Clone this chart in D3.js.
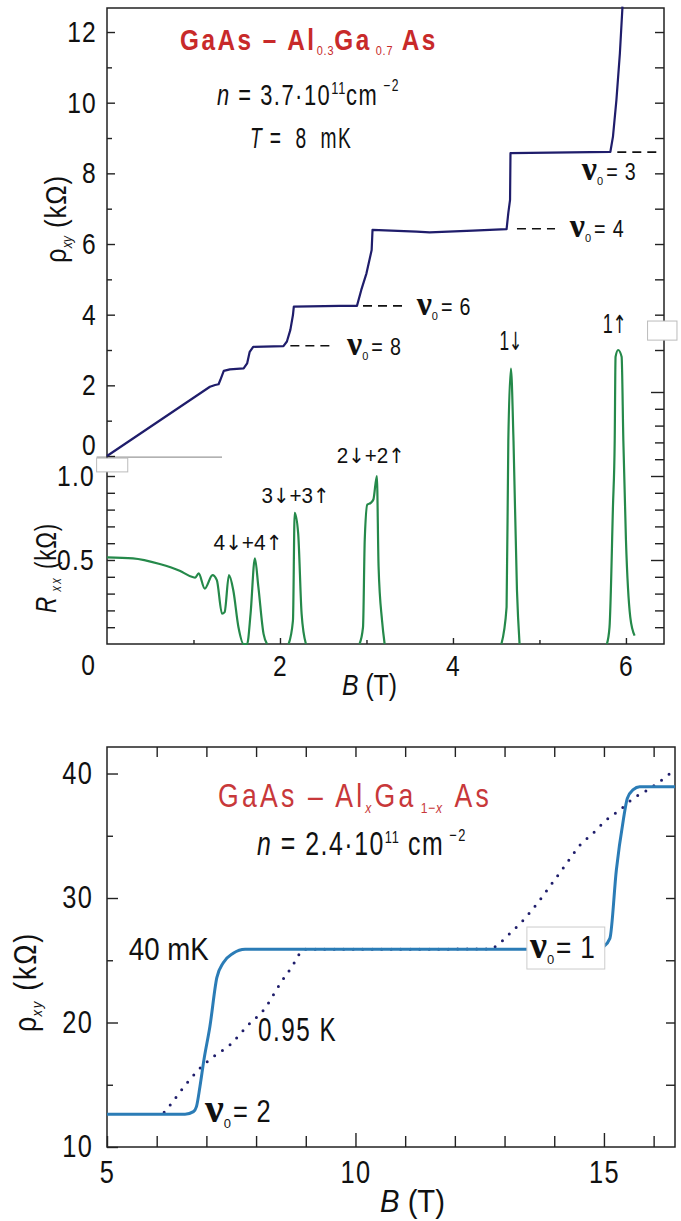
<!DOCTYPE html>
<html><head><meta charset="utf-8">
<script src="https://cdn.jsdelivr.net/npm/d3@7"></script>
<style>
body{margin:0;background:#fff;}
svg text{font-family:"Liberation Sans",Arial,sans-serif;fill:#111;white-space:pre;}
.nu{font-family:"Liberation Serif","DejaVu Serif",serif;font-weight:bold;}
.arr{font-family:"DejaVu Sans",sans-serif;}
</style></head><body>
<svg id="c" width="681" height="1221"></svg>
<script>
// ---------- Top panel data (B in T) ----------
const rhoB = [0, 1.19, 1.25, 1.29, 1.31, 1.35, 1.42, 1.58, 1.62, 1.65, 1.69, 2.04, 2.08, 2.12, 2.15, 2.16, 2.69, 2.89, 2.94, 3.00, 3.06, 3.07, 3.58, 3.73, 4.23, 4.62, 4.64, 4.66, 4.665, 5.82, 5.85, 5.89, 5.93, 5.96];
const rhoV = [0, 1.96, 2.01, 2.03, 2.15, 2.41, 2.45, 2.48, 2.62, 2.95, 3.09, 3.11, 3.24, 3.57, 3.99, 4.23, 4.25, 4.25, 4.70, 5.17, 5.83, 6.40, 6.35, 6.33, 6.38, 6.42, 6.88, 7.25, 8.57, 8.61, 9.04, 10.08, 11.40, 12.72];

const rxxB = [0, 0.30, 0.61, 0.84, 0.98, 1.02, 1.06, 1.13, 1.22, 1.27, 1.33, 1.36, 1.41, 1.46, 1.52, 1.58, 1.62, 1.66, 1.71, 1.75, 1.81, 1.85, null,
  2.10, 2.15, 2.17, 2.21, 2.25, 2.30, null,
  2.92, 2.96, 2.98, 3.01, 3.05, 3.08, 3.12, 3.14, 3.18, 3.21, null,
  4.56, 4.62, 4.64, 4.67, 4.70, 4.74, 4.77, null,
  5.78, 5.81, 5.85, 5.87, 5.88, 5.91, 5.95, 5.97, 6.00, 6.05, 6.10];
const rxxV = [0.516, 0.51, 0.476, 0.436, 0.40, 0.395, 0.42, 0.33, 0.41, 0.38, 0.18, 0.19, 0.41, 0.32, 0.10, 0.0, 0.0, 0.18, 0.51, 0.34, 0.06, 0.0, null,
  0.0, 0.14, 0.78, 0.66, 0.18, 0.0, null,
  0.0, 0.10, 0.62, 0.83, 0.84, 0.86, 1.00, 0.46, 0.14, 0.0, null,
  0.0, 0.22, 1.21, 1.64, 1.21, 0.32, 0.0, null,
  0.0, 0.10, 0.82, 1.21, 1.71, 1.75, 1.71, 1.21, 0.62, 0.16, 0.05];

const rhoTicksMajor = [0, 2, 4, 6, 8, 10, 12];
const rhoTicksMinor = [1, 3, 5, 7, 9, 11];
const rxxTicks = [0.1, 0.2, 0.3, 0.4, 0.5, 0.6, 0.7, 0.8, 0.9, 1.0];
const rxxLabels = [0.5, 1.0];
const bTopTicks = [1, 2, 3, 4, 5, 6];
const bTopLabels = [2, 4, 6];

// filling factor annotations (top): plateau level, dash range, label anchor
const nuTopNames = ["8", "6", "4", "3"];
const nuTopRho = [3.12, 4.25, 6.43, 8.60];
const nuTopDashFrom = [2.12, 2.96, 4.74, 5.90];
const nuTopDashTo = [2.64, 3.42, 5.18, 6.36];
const nuTopLabelB = [2.775, 3.58, 5.35, 5.49];
const nuTopLabelRho = [2.86, 3.99, 6.20, 7.81];

const peakNames = ["4↓+4↑", "3↓+3↑", "2↓+2↑", "1↓", "1↑"];
const peakB = [1.63, 2.18, 3.05, 4.67, 5.87];
const peakR = [0.56, 0.84, 1.08, 1.75, 1.85];

// ---------- Bottom panel data ----------
const b40 = [5.0, 6.57, 6.74, 6.80, 6.87, 6.95, 7.07, 7.21, 7.34, 7.54, 7.78, 14.85, 14.99, 15.12, 15.25, 15.39, 15.47, 15.59, 15.72, 16.43];
const r40 = [12.63, 12.63, 12.84, 13.24, 14.84, 16.99, 19.66, 23.6, 24.8, 25.56, 25.88, 25.88, 26.09, 26.76, 32.25, 36.27, 38.0, 38.7, 38.94, 38.94];
const b095 = [6.15, 6.27, 6.50, 6.87, 7.14, 7.47, 7.84, 8.15, 8.51, 8.72, 8.82, 8.95, 12.70, 12.85, 13.04, 13.38, 13.71, 13.98, 14.25, 14.52, 14.78, 15.05, 15.32, 15.59, 15.93, 16.33];
const r095 = [12.79, 13.37, 14.58, 16.32, 17.25, 18.19, 19.8, 21.0, 23.28, 24.48, 25.16, 25.88, 25.9, 26.2, 26.9, 28.23, 29.84, 31.31, 32.79, 34.26, 35.2, 36.27, 37.07, 38.0, 38.81, 40.0];

const lowYMajor = [10, 20, 30, 40];
const lowYMinor = [15, 25, 35];
const lowXTicks = [5, 6, 7, 8, 9, 10, 11, 12, 13, 14, 15, 16];
const lowXLabels = [5, 10, 15];

// ---------- drawing ----------
const svg = d3.select("#c");
const NAVY = "#1f1d6b", GREEN = "#25894a", BLUE = "#2b7cb6", RED = "#c82a2a";
const NARROW = 0.82;

const xT = d3.scaleLinear().domain([0, 6.44]).range([107, 664]);
const yRho = d3.scaleLinear().domain([0, 12.68]).range([456, 8]);
const yRxx = d3.scaleLinear().domain([0, 1]).range([644, 476]);

const xL = d3.scaleLinear().domain([5, 16.43]).range([107, 675]);
const yL = d3.scaleLinear().domain([10, 42.13]).range([1147, 747]);

function squeeze(sel, k) {
  sel.each(function () {
    const s = d3.select(this);
    const x = +s.attr("x") || 0, y = +s.attr("y") || 0;
    s.attr("transform", `translate(${x},${y}) scale(${k},1) translate(${-x},${-y})`);
  });
}
function fit(t, w, base) {
  const bb = t.node().getBBox();
  const k = w / bb.width;
  if (base) t.attr("transform", `${base} scale(${k},1)`);
  else squeeze(t, k);
  return t;
}

function styleAxis(g, fs) {
  g.attr("font-family", null).attr("font-size", null);
  g.select(".domain").remove();
  g.selectAll(".tick line").attr("stroke", "#222").attr("stroke-width", 1.4);
  g.selectAll(".tick text").attr("fill", "#111").style("font-size", fs + "px").style("letter-spacing", "1.5px");
  squeeze(g.selectAll(".tick text"), NARROW);
}

// gray artifacts
svg.append("line").attr("x1", xT(-0.12)).attr("x2", xT(1.33)).attr("y1", yRho(-0.03)).attr("y2", yRho(-0.03))
  .attr("stroke", "#999").attr("stroke-width", 1.3);

// top frame
svg.append("rect").attr("x", xT(0)).attr("y", yRho(12.68)).attr("width", xT(6.44) - xT(0)).attr("height", yRxx(0) - yRho(12.68))
  .attr("fill", "none").attr("stroke", "#222").attr("stroke-width", 1.5);

// top left axes
const f0 = d3.format("d");
svg.append("g").attr("transform", `translate(${xT(0)},0)`)
  .call(d3.axisLeft(yRho).tickValues(rhoTicksMajor).tickSizeInner(-8).tickSizeOuter(0).tickPadding(10).tickFormat(f0))
  .call(g => g.selectAll(".tick text").filter(d => d === 0).attr("dy", "-0.05em"))
  .call(g => styleAxis(g, 30));
svg.append("g").attr("transform", `translate(${xT(0)},0)`)
  .call(d3.axisLeft(yRho).tickValues(rhoTicksMinor).tickSizeInner(-5).tickSizeOuter(0).tickFormat(""))
  .call(g => styleAxis(g, 30));
svg.append("g").attr("transform", `translate(${xT(0)},0)`)
  .call(d3.axisLeft(yRxx).tickValues(rxxTicks).tickSizeInner(-8).tickSizeOuter(0).tickPadding(12)
    .tickFormat(d => rxxLabels.some(v => Math.abs(v - d) < 1e-9) ? d3.format(".1f")(d) : ""))
  .call(g => styleAxis(g, 30));
// top right axes
svg.append("g").attr("transform", `translate(${xT(6.44)},0)`)
  .call(d3.axisRight(yRho).tickValues(d3.range(3, 13)).tickSizeInner(-9).tickSizeOuter(0).tickFormat(""))
  .call(g => styleAxis(g, 30));
svg.append("g").attr("transform", `translate(${xT(6.44)},0)`)
  .call(d3.axisRight(yRxx).tickValues(d3.range(1, 16).map(d => d / 10)).tickSizeOuter(0).tickFormat("")
    .tickSizeInner(-9))
  .call(g => styleAxis(g, 30))
  .call(g => g.selectAll(".tick line").attr("x2", d => (Math.abs(d * 2 - Math.round(d * 2)) < 1e-9) ? -13 : -9));
// top bottom axis
svg.append("g").attr("transform", `translate(0,${yRxx(0)})`)
  .call(d3.axisBottom(xT).tickValues(bTopTicks).tickSizeInner(-5).tickSizeOuter(0).tickPadding(11)
    .tickFormat(d => bTopLabels.includes(d) ? f0(d) : ""))
  .call(g => styleAxis(g, 30))
  .call(g => g.selectAll(".tick line").attr("y2", d => bTopLabels.includes(d) ? -6 : -4));
squeeze(svg.append("text").attr("x", xT(0) - 19).attr("y", yRxx(0) + 31).attr("text-anchor", "middle")
  .style("font-size", "30px").text("0"), NARROW);

// boxes
svg.append("rect").attr("x", xT(-0.12)).attr("y", yRho(-0.06)).attr("width", xT(0.24) - xT(-0.12)).attr("height", yRho(-0.45) - yRho(-0.06))
  .attr("fill", "#fff").attr("stroke", "#bbb").attr("stroke-width", 1);
svg.append("rect").attr("x", xT(6.25)).attr("y", yRho(3.82)).attr("width", xT(6.59) - xT(6.25)).attr("height", yRho(3.28) - yRho(3.82))
  .attr("fill", "#fff").attr("stroke", "#bbb").attr("stroke-width", 1);

// rho_xy curve
const rhoLine = d3.line().x(i => xT(rhoB[i])).y(i => yRho(rhoV[i]));
svg.append("path").attr("d", rhoLine(d3.range(rhoB.length))).attr("fill", "none")
  .attr("stroke", NAVY).attr("stroke-width", 2.2).attr("stroke-linejoin", "round");

// Rxx curve
const rxxLine = d3.line().defined(i => rxxB[i] !== null).x(i => xT(rxxB[i])).y(i => yRxx(rxxV[i])).curve(d3.curveMonotoneX);
svg.append("path").attr("d", rxxLine(d3.range(rxxB.length))).attr("fill", "none")
  .attr("stroke", GREEN).attr("stroke-width", 2.2).attr("stroke-linejoin", "round");

// dashed nu lines
nuTopNames.forEach((n, i) => {
  svg.append("line").attr("x1", xT(nuTopDashFrom[i])).attr("x2", xT(nuTopDashTo[i]))
    .attr("y1", yRho(nuTopRho[i])).attr("y2", yRho(nuTopRho[i]))
    .attr("stroke", "#111").attr("stroke-width", 1.6).attr("stroke-dasharray", "9 6");
});

// ν_0 = n label: serif bold ν with subscript 0, then a narrow "= n"
function nuLabel(x, y, val, fsNu, fsTxt, fsSub, dsub, gap) {
  const g = svg.append("g");
  const t1 = g.append("text").attr("x", x).attr("y", y);
  t1.append("tspan").attr("class", "nu").style("font-size", fsNu + "px").text("ν");
  t1.append("tspan").style("font-size", fsSub + "px").attr("dy", dsub).text("0");
  const bb = t1.node().getBBox();
  const t2 = g.append("text").attr("x", bb.x + bb.width + gap).attr("y", y).style("font-size", fsTxt + "px")
    .style("letter-spacing", "1px").text("= " + val);
  squeeze(t2, NARROW);
  return g;
}
nuTopNames.forEach((n, i) => nuLabel(xT(nuTopLabelB[i]), yRho(nuTopLabelRho[i]), n, 34, 24, 11, 5, 3));

// peak labels
const peakW = [69, 68, 68, 23, 24];
peakNames.forEach((n, i) => {
  const t = svg.append("text").attr("x", xT(peakB[i])).attr("y", yRxx(peakR[i])).attr("text-anchor", "middle")
    .style("font-size", (i >= 3 ? 27 : 22) + "px");
  Array.from(n).forEach(ch => {
    const s = t.append("tspan").text(ch);
    if (ch === "↓" || ch === "↑") s.attr("class", "arr").style("font-size", (i >= 3 ? 25 : 21) + "px");
  });
  fit(t, peakW[i]);
});

// axis titles top
const ytBase = "translate(66,263) rotate(-90)";
const yt = svg.append("text").attr("transform", ytBase).style("font-size", "29px");
yt.append("tspan").text("ρ");
yt.append("tspan").style("font-size", "14px").style("font-style", "italic").attr("dy", 6).text("xy");
yt.append("tspan").attr("dy", -6).style("letter-spacing", "1px").text(" (kΩ)");
fit(yt, 88, ytBase);

const rtBase = "translate(56,613) rotate(-90)";
const rt = svg.append("text").attr("transform", rtBase).style("font-size", "29px");
rt.append("tspan").style("font-style", "italic").text("R");
rt.append("tspan").style("font-size", "14px").style("font-style", "italic").attr("dy", 5).style("letter-spacing", "3px").text(" xx");
rt.append("tspan").attr("dy", -5).style("letter-spacing", "1px").text(" (kΩ)");
fit(rt, 90, rtBase);

const bt = svg.append("text").attr("x", 342).attr("y", 695).style("font-size", "30px");
bt.append("tspan").style("font-style", "italic").text("B");
bt.append("tspan").text(" (T)");
fit(bt, 55);

// top title
const tt = svg.append("text").attr("x", 180).attr("y", 50).style("font-size", "29px").style("font-weight", "bold")
  .style("letter-spacing", "3px").style("fill", RED);
tt.append("tspan").text("GaAs – Al");
tt.append("tspan").style("font-size", "13px").style("font-weight", "normal").style("letter-spacing", "1px").attr("dy", 5).text("0.3");
tt.append("tspan").attr("dy", -5).text("Ga");
tt.append("tspan").style("font-size", "13px").style("font-weight", "normal").style("letter-spacing", "1px").attr("dy", 5).text(" 0.7");
tt.append("tspan").attr("dy", -5).text(" As");
fit(tt, 258);

const nt = svg.append("text").attr("x", 217).attr("y", 105).style("font-size", "29px").style("letter-spacing", "2px");
nt.append("tspan").style("font-style", "italic").text("n");
nt.append("tspan").text(" = 3.7·10");
nt.append("tspan").style("font-size", "17px").style("letter-spacing", "1px").attr("dy", -11).text("11");
nt.append("tspan").attr("dy", 11).text("cm");
nt.append("tspan").style("font-size", "16px").attr("dy", -14).text(" −2");
fit(nt, 183);

const Tt = svg.append("text").attr("x", 250).attr("y", 148).style("font-size", "30px").style("letter-spacing", "2px");
Tt.append("tspan").style("font-style", "italic").text("T");
Tt.append("tspan").text(" =  8  mK");
fit(Tt, 102);

// ================= Lower panel =================
svg.append("rect").attr("x", xL(5)).attr("y", yL(42.13)).attr("width", xL(16.43) - xL(5)).attr("height", yL(10) - yL(42.13))
  .attr("fill", "none").attr("stroke", "#222").attr("stroke-width", 1.5);

svg.append("g").attr("transform", `translate(${xL(5)},0)`)
  .call(d3.axisLeft(yL).tickValues(lowYMajor).tickSizeInner(-11).tickSizeOuter(0).tickPadding(14).tickFormat(f0))
  .call(g => styleAxis(g, 31));
svg.append("g").attr("transform", `translate(${xL(5)},0)`)
  .call(d3.axisLeft(yL).tickValues(lowYMinor).tickSizeInner(-6).tickSizeOuter(0).tickFormat(""))
  .call(g => styleAxis(g, 31));
svg.append("g").attr("transform", `translate(${xL(16.43)},0)`)
  .call(d3.axisRight(yL).tickValues([15, 20, 25, 30, 35]).tickSizeInner(-9).tickSizeOuter(0).tickFormat(""))
  .call(g => styleAxis(g, 31));
svg.append("g").attr("transform", `translate(0,${yL(10)})`)
  .call(d3.axisBottom(xL).tickValues(lowXTicks).tickSizeInner(-11).tickSizeOuter(0).tickPadding(14)
    .tickFormat(d => lowXLabels.includes(d) ? f0(d) : ""))
  .call(g => styleAxis(g, 31))
  .call(g => g.selectAll(".tick line").attr("y2", d => (d === 10 || d === 15) ? -14 : -11));
svg.append("g").attr("transform", `translate(0,${yL(42.13)})`)
  .call(d3.axisTop(xL).tickValues(lowXTicks.filter(d => d > 5)).tickSizeInner(-10).tickSizeOuter(0).tickFormat(""))
  .call(g => styleAxis(g, 31));

// curves
const l40 = d3.line().x(i => xL(b40[i])).y(i => yL(r40[i])).curve(d3.curveMonotoneX);
const l095 = d3.line().x(i => xL(b095[i])).y(i => yL(r095[i])).curve(d3.curveMonotoneX);
svg.append("path").attr("d", l095(d3.range(b095.length))).attr("fill", "none")
  .attr("stroke", NAVY).attr("stroke-width", 3).attr("stroke-linecap", "round").attr("stroke-dasharray", "0 9.5");
svg.append("path").attr("d", l40(d3.range(b40.length))).attr("fill", "none")
  .attr("stroke", BLUE).attr("stroke-width", 3).attr("stroke-linejoin", "round");

// lower labels
fit(svg.append("text").attr("x", xL(5.44)).attr("y", yL(25.02)).style("font-size", "32px").text("40 mK"), 80);
fit(svg.append("text").attr("x", xL(8.04)).attr("y", yL(18.51)).style("font-size", "33px").style("letter-spacing", "2px").text("0.95 K"), 79);
nuLabel(xL(6.97), yL(12.0), "2", 42, 31, 13, 6, 2);
const n1 = nuLabel(xL(13.51), yL(25.18), "1", 38, 32, 13, 6, 2);
const r1 = n1.node().getBoundingClientRect();
svg.insert("rect", function () { return n1.node(); })
  .attr("x", r1.left - 2).attr("y", r1.top + 3).attr("width", r1.width + 11).attr("height", r1.height - 1)
  .attr("fill", "#fff").attr("stroke", "#ccc").attr("stroke-width", 1);

const lt = svg.append("text").attr("x", 218).attr("y", 807).style("font-size", "33px").style("letter-spacing", "4px").style("fill", "#c8383a");
lt.append("tspan").text("GaAs – Al");
lt.append("tspan").style("font-size", "15px").style("font-style", "italic").attr("dy", 6).text("x");
lt.append("tspan").attr("dy", -6).text("Ga");
lt.append("tspan").style("font-size", "15px").style("letter-spacing", "1px").attr("dy", 6).text(" 1−");
lt.append("tspan").style("font-size", "15px").style("font-style", "italic").text("x");
lt.append("tspan").attr("dy", -6).text(" As");
fit(lt, 274);

const ln = svg.append("text").attr("x", 257).attr("y", 855).style("font-size", "33px").style("letter-spacing", "2px");
ln.append("tspan").style("font-style", "italic").text("n");
ln.append("tspan").text(" = 2.4·10");
ln.append("tspan").style("font-size", "17px").style("letter-spacing", "1px").attr("dy", -12).text("11");
ln.append("tspan").attr("dy", 12).text(" cm");
ln.append("tspan").style("font-size", "17px").attr("dy", -14).text(" −2");
fit(ln, 210);

const lyBase = "translate(36,1032) rotate(-90)";
const ly = svg.append("text").attr("transform", lyBase).style("font-size", "31px");
ly.append("tspan").text("ρ");
ly.append("tspan").style("font-size", "15px").style("font-style", "italic").attr("dy", 6).style("letter-spacing", "2px").text("xy");
ly.append("tspan").attr("dy", -6).style("letter-spacing", "2px").text(" (kΩ)");
fit(ly, 100, lyBase);

const lb = svg.append("text").attr("x", 380).attr("y", 1212).style("font-size", "32px");
lb.append("tspan").style("font-style", "italic").text("B");
lb.append("tspan").text(" (T)");
fit(lb, 65);
</script>
</body></html>
